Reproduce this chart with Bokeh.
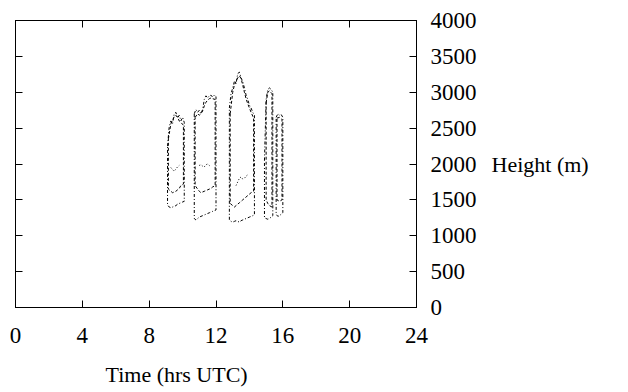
from bokeh.plotting import figure
from bokeh.models import LinearAxis, FixedTicker, Range1d, Title, CustomJSTickFormatter
from bokeh.embed import file_html
from bokeh.resources import INLINE

FONT = "Liberation Serif"

x_ticks = [0, 4, 8, 12, 16, 20, 24]
y_ticks = [0, 500, 1000, 1500, 2000, 2500, 3000, 3500, 4000]

# Cloud layer outlines per event: time (hrs UTC), cloud top and base (m)
t_a = [9.1, 9.2, 9.3, 9.4, 9.5, 9.6, 9.7, 9.8, 9.9, 10.0, 10.1]
top_a = [2250, 2520, 2600, 2560, 2700, 2720, 2640, 2680, 2600, 2650, 2580]
base_a = [1430, 1400, 1390, 1400, 1410, 1420, 1440, 1450, 1460, 1470, 1480]

t_b = [10.7, 10.8, 10.9, 11.0, 11.1, 11.2, 11.3, 11.4, 11.5, 11.6, 11.7, 11.8, 11.9, 12.0]
top_b = [2700, 2760, 2720, 2750, 2700, 2760, 2900, 2950, 2920, 2950, 2960, 2930, 2960, 2940]
base_b = [1240, 1220, 1240, 1260, 1270, 1280, 1290, 1300, 1310, 1320, 1330, 1340, 1350, 1360]

t_c = [12.8, 12.9, 13.0, 13.1, 13.2, 13.3, 13.4, 13.5, 13.6, 13.7, 13.8, 13.9, 14.0, 14.1, 14.2, 14.3]
top_c = [2780, 2980, 3060, 3150, 3120, 3260, 3280, 3200, 3150, 3060, 2960, 2900, 2820, 2780, 2720, 2680]
base_c = [1220, 1200, 1190, 1200, 1210, 1200, 1190, 1210, 1220, 1230, 1240, 1250, 1260, 1270, 1280, 1290]

t_d = [14.9, 15.0, 15.1, 15.2, 15.3, 15.4]
top_d = [2050, 2900, 3040, 3060, 3040, 3000]
base_d = [1250, 1240, 1230, 1240, 1260, 1280]

t_e = [15.6, 15.7, 15.8, 15.9, 16.0]
top_e = [2650, 2700, 2680, 2690, 2650]
base_e = [1300, 1270, 1280, 1300, 1320]

# Inner (second layer) outlines
t_a2 = [9.15, 9.3, 9.4, 9.5, 9.6, 9.7, 9.8, 9.9, 10.05]
top_a2 = [2350, 2560, 2610, 2660, 2680, 2650, 2600, 2580, 2540]
base_a2 = [1650, 1620, 1600, 1610, 1620, 1640, 1660, 1700, 1720]

t_b2 = [10.75, 10.9, 11.0, 11.1, 11.2, 11.3, 11.4, 11.5, 11.6, 11.7, 11.8, 11.95]
top_b2 = [2650, 2700, 2680, 2700, 2740, 2810, 2860, 2890, 2910, 2920, 2910, 2900]
base_b2 = [1700, 1650, 1620, 1600, 1610, 1620, 1630, 1640, 1650, 1660, 1680, 1700]

t_c2 = [12.85, 13.0, 13.1, 13.2, 13.3, 13.4, 13.5, 13.6, 13.7, 13.8, 13.9, 14.0, 14.1, 14.25]
top_c2 = [2700, 3000, 3100, 3150, 3200, 3230, 3190, 3100, 3000, 2910, 2840, 2780, 2720, 2640]
base_c2 = [1450, 1420, 1400, 1420, 1440, 1460, 1480, 1500, 1520, 1540, 1560, 1580, 1600, 1620]

t_d2 = [15.0, 15.1, 15.2, 15.35]
top_d2 = [2850, 3000, 3020, 2980]
base_d2 = [1500, 1450, 1420, 1400]

t_e2 = [15.65, 15.8, 15.95]
top_e2 = [2640, 2650, 2620]
base_e2 = [1500, 1480, 1500]

# Dotted mid-level traces
lvl_t_a = [9.3, 9.4, 9.5, 9.6, 9.7, 9.8]
lvl_h_a = [1950, 1920, 1900, 1930, 1960, 1980]
lvl_t_b = [11.0, 11.1, 11.2, 11.3, 11.4, 11.5, 11.6, 11.7]
lvl_h_b = [1980, 1990, 1970, 1960, 1990, 2000, 1980, 1960]
lvl_t_c = [13.2, 13.3, 13.4, 13.5, 13.6, 13.7, 13.8, 13.9]
lvl_h_c = [1700, 1750, 1800, 1820, 1790, 1800, 1830, 1850]


def loop(t, top, base):
    xs = list(t) + list(t)[::-1] + [t[0]]
    ys = list(top) + list(base)[::-1] + [top[0]]
    return xs, ys


p = figure(
    frame_width=401, frame_height=287,
    min_border_left=15, min_border_top=20, min_border_right=10, min_border_bottom=10,
    width=628, height=392,
    x_range=Range1d(0, 24), y_range=Range1d(0, 4000),
    output_backend="svg", toolbar_location=None,
    x_axis_location=None, y_axis_location=None,
)
p.background_fill_color = "white"
p.border_fill_color = "white"
p.outline_line_color = "black"
p.outline_line_width = 1
p.xgrid.visible = False
p.ygrid.visible = False


def make_axis(show_labels, ticks):
    ax = LinearAxis(ticker=FixedTicker(ticks=ticks))
    ax.major_tick_in = 7
    ax.major_tick_out = 0
    ax.minor_tick_in = 0
    ax.minor_tick_out = 0
    ax.axis_line_color = "black"
    ax.major_tick_line_color = "black"
    ax.major_label_text_font = FONT
    ax.major_label_text_color = "black"
    ax.major_label_text_font_size = "23px"
    ax.axis_label_text_font = FONT
    ax.axis_label_text_font_size = "22px"
    ax.axis_label_text_font_style = "normal"
    ax.axis_label_text_color = "black"
    if not show_labels:
        ax.formatter = CustomJSTickFormatter(code="return ''")
        ax.major_label_standoff = 0
    return ax


bottom = make_axis(True, x_ticks)
bottom.major_label_standoff = 20
p.add_layout(bottom, "below")
top_ax = make_axis(False, x_ticks)
p.add_layout(top_ax, "above")
left = make_axis(False, y_ticks)
p.add_layout(left, "left")
right = make_axis(True, y_ticks)
right.major_label_standoff = 14
right.axis_label = "Height (m)"
right.axis_label_orientation = "horizontal"
right.axis_label_standoff = 12
p.add_layout(right, "right")

p.add_layout(Title(text="Time (hrs UTC)", text_font=FONT, text_font_size="22px",
                   text_font_style="normal", text_color="black", align="left",
                   offset=90, standoff=28), "below")

outer = [loop(t_a, top_a, base_a), loop(t_b, top_b, base_b), loop(t_c, top_c, base_c),
         loop(t_d, top_d, base_d), loop(t_e, top_e, base_e)]
inner = [loop(t_a2, top_a2, base_a2), loop(t_b2, top_b2, base_b2), loop(t_c2, top_c2, base_c2),
         loop(t_d2, top_d2, base_d2), loop(t_e2, top_e2, base_e2)]

p.multi_line([o[0] for o in outer], [o[1] for o in outer],
             line_color="black", line_width=1, line_dash="3 2 1 2")
p.multi_line([o[0] for o in inner], [o[1] for o in inner],
             line_color="black", line_width=1, line_dash="3 2")
p.multi_line([lvl_t_a, lvl_t_b, lvl_t_c], [lvl_h_a, lvl_h_b, lvl_h_c],
             line_color="black", line_width=1, line_dash="1 2")

open("out.html", "w").write(file_html(p, INLINE))
